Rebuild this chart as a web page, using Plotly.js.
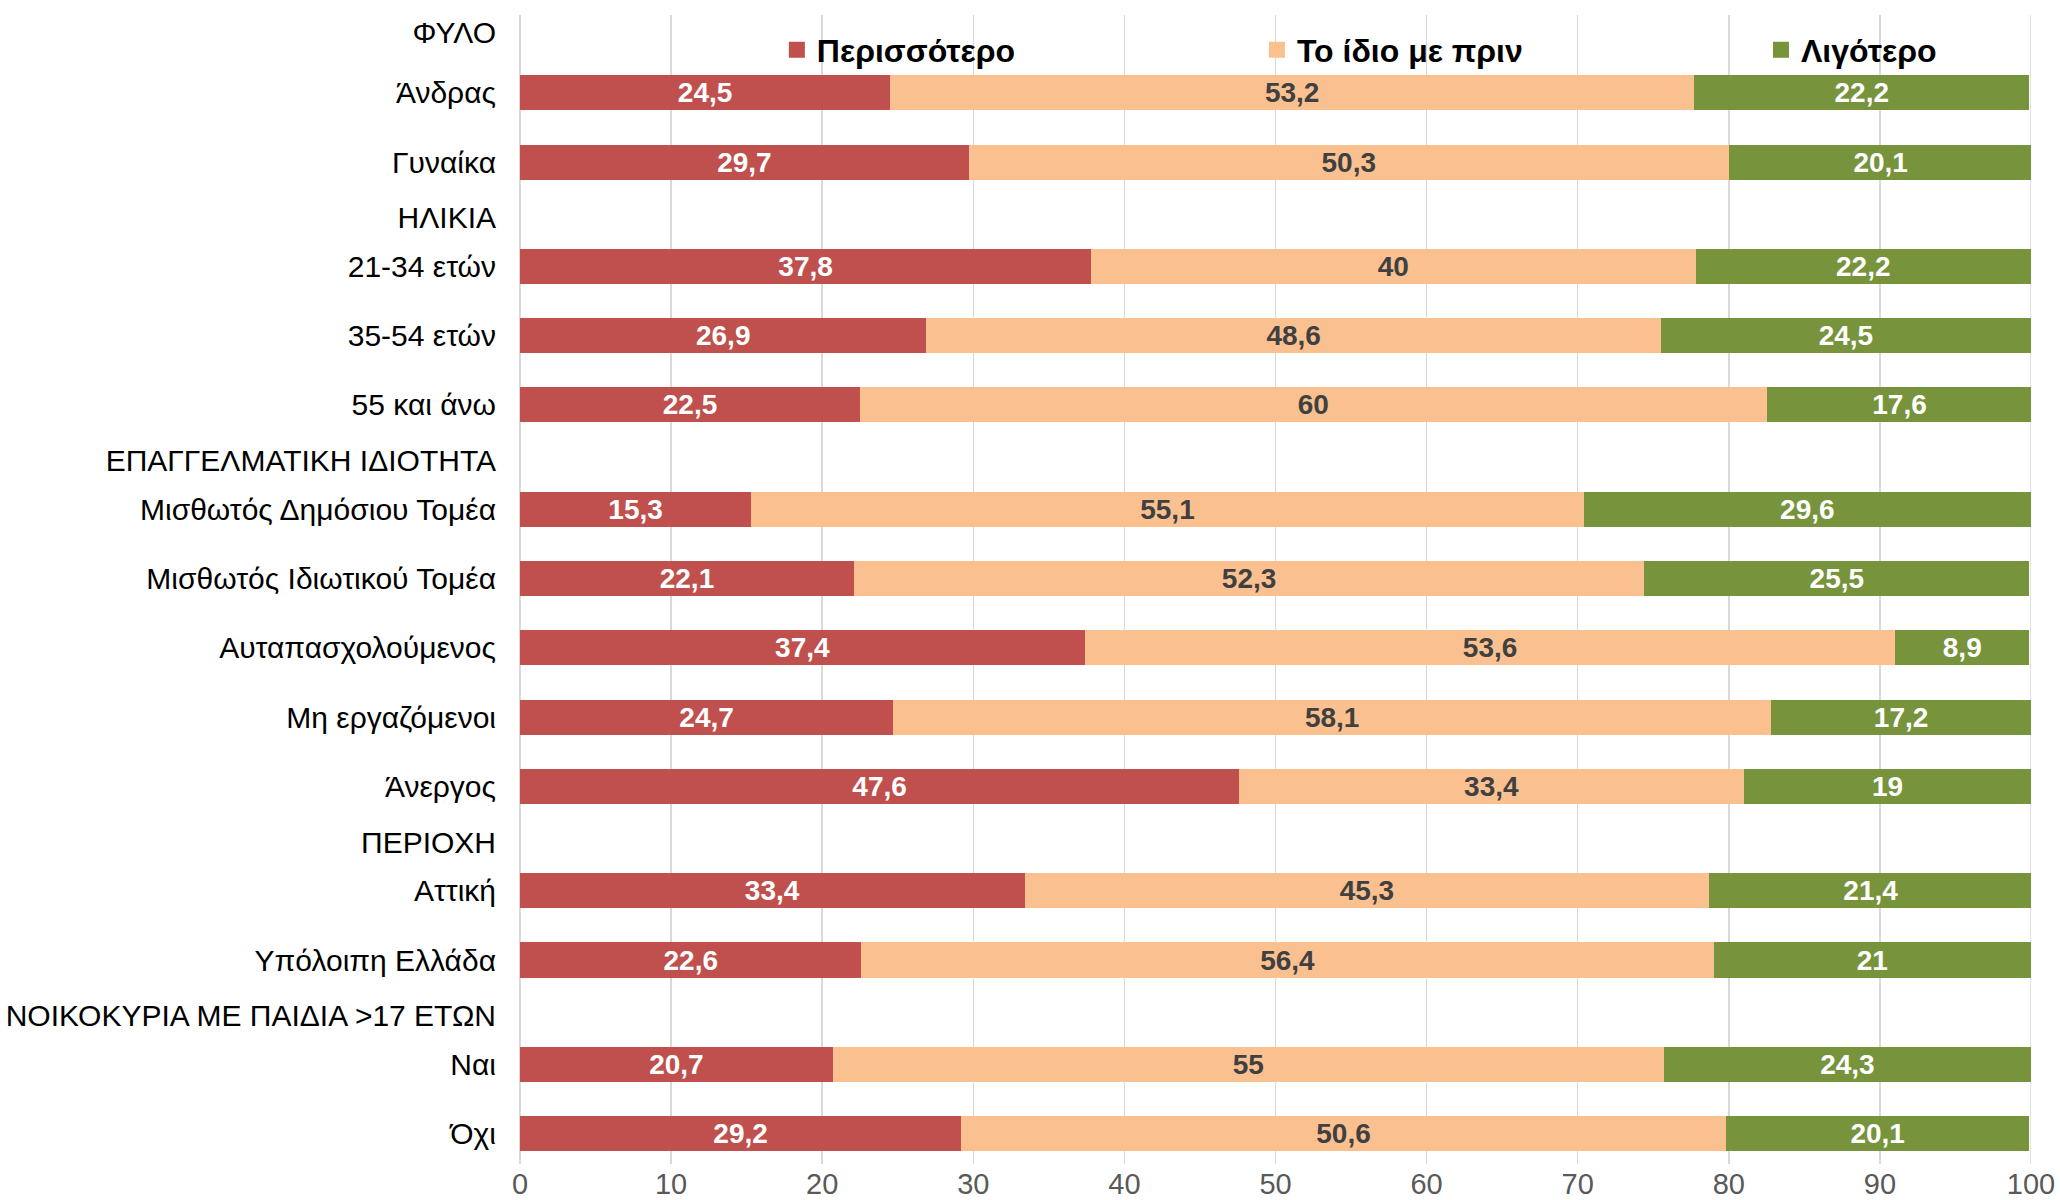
<!DOCTYPE html>
<html>
<head>
<meta charset="utf-8">
<script src="https://cdn.plot.ly/plotly-3.0.1.min.js"></script>
<style>html,body{margin:0;padding:0;background:#fff;}#chart{width:2060px;height:1200px;}</style>
</head>
<body>
<div id="chart"></div>
<script>
// Categories (section headers have no values)
const categories = [
  'ΦΥΛΟ', 'Άνδρας', 'Γυναίκα',
  'ΗΛΙΚΙΑ', '21-34 ετών', '35-54 ετών', '55 και άνω',
  'ΕΠΑΓΓΕΛΜΑΤΙΚΗ ΙΔΙΟΤΗΤΑ', 'Μισθωτός Δημόσιου Τομέα', 'Μισθωτός Ιδιωτικού Τομέα',
  'Αυταπασχολούμενος', 'Μη εργαζόμενοι', 'Άνεργος',
  'ΠΕΡΙΟΧΗ', 'Αττική', 'Υπόλοιπη Ελλάδα',
  'ΝΟΙΚΟΚΥΡΙΑ ΜΕ ΠΑΙΔΙΑ >17 ΕΤΩΝ', 'Ναι', 'Όχι'
];
const perissotero = [null, 24.5, 29.7, null, 37.8, 26.9, 22.5, null, 15.3, 22.1, 37.4, 24.7, 47.6, null, 33.4, 22.6, null, 20.7, 29.2];
const idio        = [null, 53.2, 50.3, null, 40,   48.6, 60,   null, 55.1, 52.3, 53.6, 58.1, 33.4, null, 45.3, 56.4, null, 55,   50.6];
const ligotero    = [null, 22.2, 20.1, null, 22.2, 24.5, 17.6, null, 29.6, 25.5, 8.9,  17.2, 19,   null, 21.4, 21,   null, 24.3, 20.1];
const seriesNames = ['Περισσότερο', 'Το ίδιο με πριν', 'Λιγότερο'];
const xTicks = [0, 10, 20, 30, 40, 50, 60, 70, 80, 90, 100];

// Row positions: headers take a shorter slot than bars
const isHeader = perissotero.map(v => v === null);
const pos = [];
let cursor = 0, prevBar = null;
categories.forEach((c, i) => {
  if (isHeader[i]) {
    const y = prevBar === null ? -0.87 : prevBar + 0.8;
    pos.push(y);
    cursor = y + 0.7;
  } else {
    const y = prevBar === null ? 0 : (isHeader[i - 1] ? cursor : prevBar + 1);
    pos.push(y);
    prevBar = y;
  }
});

const fmt = v => v === null ? '' : String(v).replace('.', ',');
const colors = ['#C0504D', '#FAC090', '#77933C'];
const textColors = ['#FFFFFF', '#404040', '#FFFFFF'];
const series = [perissotero, idio, ligotero];
const legendIds = ['legend', 'legend2', 'legend3'];
const FONT = 'Liberation Sans, Arial, sans-serif';

const barIdx = categories.map((c, i) => i).filter(i => !isHeader[i]);
const traces = series.map((s, k) => ({
  type: 'bar',
  orientation: 'h',
  name: seriesNames[k],
  showlegend: false,
  y: barIdx.map(i => pos[i]),
  x: barIdx.map(i => s[i]),
  text: barIdx.map(i => fmt(s[i])),
  texttemplate: '%{text}',
  textposition: 'inside',
  insidetextanchor: 'middle',
  textangle: 0,
  constraintext: 'none',
  textfont: {family: FONT, size: 28, color: textColors[k], weight: 'bold'},
  marker: {color: colors[k], line: {width: 0}},
  width: 0.505,
  hoverinfo: 'skip'
}));
// legend-only entries with larger square keys
seriesNames.forEach((n, k) => traces.push({
  type: 'scatter', mode: 'markers', name: n, legend: legendIds[k],
  x: [null], y: [null],
  marker: {symbol: 'square', size: 16, color: colors[k]},
  hoverinfo: 'skip'
}));

const legendBase = {
  orientation: 'h', xanchor: 'left', y: 0.9695, yanchor: 'middle',
  font: {family: FONT, size: 32, color: '#000', weight: 'bold'},
  bgcolor: 'rgba(0,0,0,0)', borderwidth: 0
};
const legendX = [0.1700, 0.4877, 0.8213];

const layout = {
  width: 2060, height: 1200,
  margin: {l: 520, r: 29, t: 15, b: 36},
  paper_bgcolor: '#fff', plot_bgcolor: '#fff',
  barmode: 'stack',
  showlegend: true,
  legend: Object.assign({}, legendBase, {x: legendX[0]}),
  legend2: Object.assign({}, legendBase, {x: legendX[1]}),
  legend3: Object.assign({}, legendBase, {x: legendX[2]}),
  xaxis: {
    range: [0, 100], tickvals: xTicks, ticktext: xTicks.map(String),
    showgrid: true, gridcolor: '#D9D9D9', gridwidth: 1.5,
    zeroline: true, zerolinecolor: '#D9D9D9', zerolinewidth: 1.5,
    showline: false, ticks: '',
    tickfont: {family: FONT, size: 29, color: '#595959'},
    fixedrange: true
  },
  yaxis: {
    range: [15.44, -1.12],
    tickvals: pos, ticktext: categories,
    showgrid: false, zeroline: false, showline: false, ticks: '',
    ticklabelstandoff: 23,
    tickfont: {family: FONT, size: 30, color: '#000'},
    fixedrange: true
  },
  shapes: [{type: 'line', xref: 'x', yref: 'paper', x0: 100, x1: 100, y0: 0, y1: 1, line: {color: '#D9D9D9', width: 1.5}, layer: 'below'}]
};

Plotly.newPlot('chart', traces, layout, {displayModeBar: false, staticPlot: true});
</script>
</body>
</html>
